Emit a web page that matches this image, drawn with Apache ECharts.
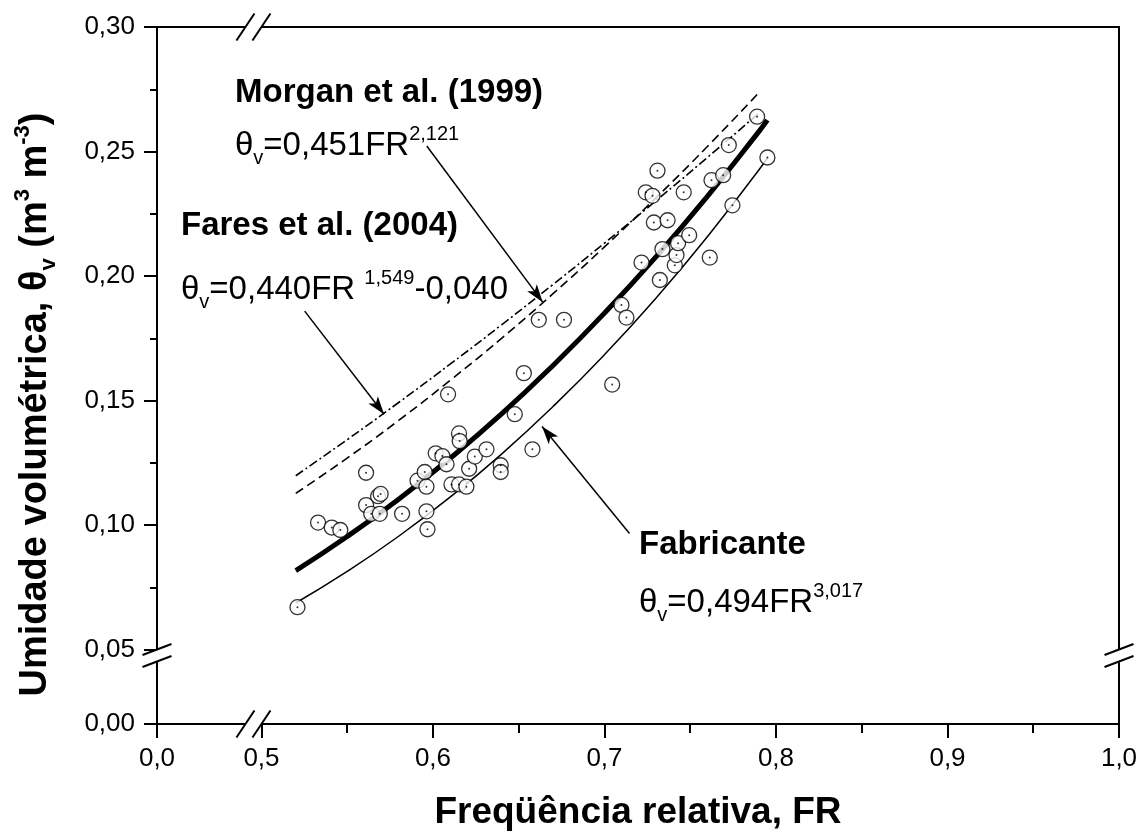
<!DOCTYPE html>
<html>
<head>
<meta charset="utf-8">
<script src="https://cdn.jsdelivr.net/npm/echarts@6/dist/echarts.min.js"></script>
<style>
html, body { margin: 0; padding: 0; background: #fff; }
#chart { width: 1144px; height: 832px; }
</style>
</head>
<body>
<div id="chart"></div>
<script>
// both axes are broken: 0,0 and 0,00 sit just left / below the break
var X_BREAK_POS = 0.4391;
var Y_BREAK_POS = 0.0201;
var FONT = 'Liberation Sans, Arial, sans-serif';

var xTickValues = [0.0, 0.5, 0.6, 0.7, 0.8, 0.9, 1.0];
var xTickLabels = ['0,0', '0,5', '0,6', '0,7', '0,8', '0,9', '1,0'];
var xMinorTicks = [0.55, 0.65, 0.75, 0.85, 0.95];
var yTickValues = [0.00, 0.05, 0.10, 0.15, 0.20, 0.25, 0.30];
var yTickLabels = ['0,00', '0,05', '0,10', '0,15', '0,20', '0,25', '0,30'];
var yMinorTicks = [0.075, 0.125, 0.175, 0.225, 0.275];

// measured points [FR, theta_v]
var measured = [
    [0.521, 0.067], [0.533, 0.101], [0.541, 0.099], [0.546, 0.098], [0.561, 0.121],
    [0.561, 0.108], [0.564, 0.1045], [0.568, 0.1116], [0.5695, 0.1125], [0.569, 0.1045],
    [0.582, 0.1045], [0.591, 0.1178], [0.5952, 0.1213], [0.5962, 0.1154], [0.5962, 0.1055],
    [0.5968, 0.0983], [0.6016, 0.1288], [0.6055, 0.1277], [0.6079, 0.1244], [0.6088, 0.1525],
    [0.6108, 0.1163], [0.6152, 0.1163], [0.6195, 0.1154], [0.6152, 0.1368], [0.6156, 0.1337],
    [0.6211, 0.1226], [0.6244, 0.1275], [0.6312, 0.1304], [0.6395, 0.124], [0.6395, 0.1213],
    [0.6477, 0.1445], [0.653, 0.161], [0.658, 0.1304], [0.6617, 0.1824], [0.6764, 0.1824],
    [0.7045, 0.1564], [0.7099, 0.1884], [0.7128, 0.1833], [0.7216, 0.2054], [0.7241, 0.2336],
    [0.728, 0.2322], [0.7288, 0.2215], [0.7309, 0.2423], [0.7323, 0.1984], [0.7338, 0.2108],
    [0.7368, 0.2224], [0.741, 0.2043], [0.742, 0.2084], [0.7429, 0.2132], [0.7462, 0.2336],
    [0.7494, 0.2164], [0.7614, 0.2074], [0.7624, 0.2385], [0.7692, 0.2405], [0.7725, 0.2526],
    [0.7746, 0.2284], [0.789, 0.264], [0.795, 0.2476]
];

// curves
var fitFR = [0.52, 0.55, 0.58, 0.61, 0.64, 0.67, 0.70, 0.73, 0.76, 0.79, 0.795];
var fitTheta = [0.0817, 0.0954, 0.1104, 0.1268, 0.1446, 0.1641, 0.1851, 0.2077, 0.2320, 0.2580, 0.2626];
var fabricanteTheta = [0.0687, 0.0814, 0.0955, 0.1112, 0.1285, 0.1476, 0.1684, 0.1911, 0.2158, 0.2426, 0.2473];
var refFR = [0.52, 0.55, 0.58, 0.61, 0.64, 0.67, 0.70, 0.73, 0.76, 0.79];
var morganTheta = [0.1127, 0.1269, 0.1420, 0.1581, 0.1750, 0.1929, 0.2117, 0.2314, 0.2520, 0.2736];
var faresTheta = [0.1198, 0.1343, 0.1492, 0.1646, 0.1804, 0.1966, 0.2132, 0.2302, 0.2476, 0.2654];

function pairs(xs, ys) {
    return xs.map(function (x, i) { return [x, ys[i]]; });
}
function xPos(v) { return v < 0.5 ? X_BREAK_POS : v; }
function yPos(v) { return v < 0.05 ? Y_BREAK_POS : v; }
function labelFor(values, labels) {
    return function (v) {
        for (var i = 0; i < values.length; i++) {
            if (Math.abs(values[i] - v) < 1e-6) return labels[i];
        }
        return '';
    };
}

var xMajor = xTickValues.map(xPos);
var yMajor = yTickValues.map(yPos);
var axisLineStyle = { color: '#000', width: 2 };

function arrow(from, to) {
    return {
        silent: true,
        symbol: ['none', 'arrow'],
        symbolSize: [9, 18],
        label: { show: false },
        lineStyle: { color: '#000', width: 1.5, type: 'solid' },
        data: [[{ coord: from }, { coord: to }]]
    };
}

var chart = echarts.init(document.getElementById('chart'));

var option = {
    animation: false,
    backgroundColor: '#fff',
    grid: {
        left: 157, right: 25, top: 27, bottom: 108,
        show: true, borderColor: '#000', borderWidth: 2,
        outerBoundsMode: 'none'
    },
    xAxis: [{
        type: 'value', min: X_BREAK_POS, max: 1.0, position: 'bottom',
        axisLine: { show: true, onZero: false, lineStyle: axisLineStyle },
        axisTick: { show: true, length: 14, lineStyle: axisLineStyle, customValues: xMajor },
        axisLabel: {
            customValues: xMajor, formatter: labelFor(xMajor, xTickLabels),
            margin: 22, color: '#000', fontSize: 26, fontFamily: FONT
        },
        splitLine: { show: false },
        name: 'Freqüência relativa, FR', nameLocation: 'middle', nameGap: 70,
        nameTextStyle: { color: '#000', fontSize: 37, fontWeight: 'bold', fontFamily: FONT }
    }, {
        type: 'value', min: X_BREAK_POS, max: 1.0, position: 'bottom',
        axisLine: { show: false, onZero: false },
        axisTick: { show: true, length: 9, lineStyle: axisLineStyle, customValues: xMinorTicks },
        axisLabel: { show: false },
        splitLine: { show: false }
    }],
    yAxis: [{
        type: 'value', min: Y_BREAK_POS, max: 0.30, position: 'left',
        axisLine: { show: true, onZero: false, lineStyle: axisLineStyle },
        axisTick: { show: true, length: 13, lineStyle: axisLineStyle, customValues: yMajor },
        axisLabel: {
            customValues: yMajor, formatter: labelFor(yMajor, yTickLabels),
            margin: 22, color: '#000', fontSize: 26, fontFamily: FONT
        },
        splitLine: { show: false },
        name: 'Umidade volumétrica, θ{sub|v} (m{sup|3} m{sup|-3})',
        nameLocation: 'middle', nameGap: 97, nameRotate: 90,
        nameTextStyle: {
            color: '#000', fontSize: 38, fontWeight: 'bold', fontFamily: FONT, lineHeight: 48,
            padding: [0, 58, 0, 0],
            rich: {
                sub: { fontSize: 22, fontWeight: 'bold', fontFamily: FONT, verticalAlign: 'bottom', lineHeight: 12 },
                sup: { fontSize: 22, fontWeight: 'bold', fontFamily: FONT, verticalAlign: 'top', lineHeight: 22 }
            }
        }
    }, {
        type: 'value', min: Y_BREAK_POS, max: 0.30, position: 'left',
        axisLine: { show: false, onZero: false },
        axisTick: { show: true, length: 7, lineStyle: axisLineStyle, customValues: yMinorTicks },
        axisLabel: { show: false },
        splitLine: { show: false }
    }],
    series: [{
        name: 'Fabricante', type: 'line', smooth: true, showSymbol: false,
        data: pairs(fitFR, fabricanteTheta),
        itemStyle: { color: '#000' }, lineStyle: { color: '#000', width: 1.5 },
        markLine: arrow([0.7146, 0.0966], [0.6636, 0.1396])
    }, {
        name: 'Ajuste', type: 'line', smooth: true, showSymbol: false,
        data: pairs(fitFR, fitTheta),
        itemStyle: { color: '#000' }, lineStyle: { color: '#000', width: 5 }
    }, {
        name: 'Morgan et al. (1999)', type: 'line', smooth: true, showSymbol: false,
        data: pairs(refFR, morganTheta),
        itemStyle: { color: '#000' }, lineStyle: { color: '#000', width: 1.6, type: [9, 5] },
        markLine: arrow([0.5964, 0.2522], [0.664, 0.1895])
    }, {
        name: 'Fares et al. (2004)', type: 'line', smooth: true, showSymbol: false,
        data: pairs(refFR, faresTheta),
        itemStyle: { color: '#000' }, lineStyle: { color: '#000', width: 1.6, type: [9, 3, 2, 3] },
        markLine: arrow([0.5252, 0.1859], [0.5715, 0.1445])
    }, {
        name: 'Medido', type: 'scatter', z: 5,
        data: measured, symbol: 'circle', symbolSize: 15,
        itemStyle: { color: '#fff', borderColor: '#000', borderWidth: 1.3 }
    }, {
        name: 'Medido centro', type: 'scatter', z: 6,
        data: measured, symbol: 'circle', symbolSize: 2,
        itemStyle: { color: '#000' }
    }]
};

chart.setOption(option);

// break marks "//" on all four sides, and the equation labels
function seg(x1, y1, x2, y2) {
    return { type: 'line', z: 101, shape: { x1: x1, y1: y1, x2: x2, y2: y2 },
        style: { stroke: '#000', lineWidth: 2 } };
}
function patch(points) {
    return { type: 'polygon', z: 100, shape: { points: points }, style: { fill: '#fff' } };
}
function xBreak(c1, c2, y) {
    return [
        patch([[c1 - 9, y + 13.5], [c1 + 9, y - 13.5], [c2 + 9, y - 13.5], [c2 - 9, y + 13.5]]),
        seg(c1 - 9, y + 13.5, c1 + 9, y - 13.5),
        seg(c2 - 9, y + 13.5, c2 + 9, y - 13.5)
    ];
}
function yBreak(x, c1, c2) {
    return [
        patch([[x - 14.5, c1 + 5.5], [x + 14.5, c1 - 5.5], [x + 14.5, c2 - 5.5], [x - 14.5, c2 + 5.5]]),
        seg(x - 14.5, c1 + 5.5, x + 14.5, c1 - 5.5),
        seg(x - 14.5, c2 + 5.5, x + 14.5, c2 - 5.5)
    ];
}

var p05 = chart.convertToPixel({ gridIndex: 0 }, [0.5, 0.05]);
var pMin = chart.convertToPixel({ gridIndex: 0 }, [X_BREAK_POS, Y_BREAK_POS]);
var pMax = chart.convertToPixel({ gridIndex: 0 }, [1.0, 0.30]);

var eqRich = {
    t: { fontSize: 33, fontFamily: FONT, lineHeight: 44, fill: '#000' },
    b: { fontSize: 33, fontFamily: FONT, fontWeight: 'bold', lineHeight: 44, fill: '#000' },
    sub: { fontSize: 20, fontFamily: FONT, verticalAlign: 'bottom', lineHeight: 8, fill: '#000' },
    sup: { fontSize: 20, fontFamily: FONT, verticalAlign: 'top', lineHeight: 20, fill: '#000' }
};
function label(x, y, text) {
    return { type: 'text', z: 102, x: x, y: y,
        style: { text: text, rich: eqRich, align: 'left', verticalAlign: 'middle' } };
}

var graphics = []
    .concat(xBreak(p05[0] - 16, p05[0], pMin[1]))
    .concat(xBreak(p05[0] - 16, p05[0], pMax[1]))
    .concat(yBreak(pMin[0], p05[1], p05[1] + 12))
    .concat(yBreak(pMax[0], p05[1], p05[1] + 12))
    .concat([
        label(235, 93, '{b|Morgan et al. (1999)}'),
        label(235, 146, '{t|θ}{sub|v}{t|=0,451FR}{sup|2,121}'),
        label(181, 226, '{b|Fares et al. (2004)}'),
        label(181, 290, '{t|θ}{sub|v}{t|=0,440FR }{sup|1,549}{t|-0,040}'),
        label(639, 545, '{b|Fabricante}'),
        label(639, 603, '{t|θ}{sub|v}{t|=0,494FR}{sup|3,017}')
    ]);

chart.setOption({ graphic: graphics });
</script>
</body>
</html>
